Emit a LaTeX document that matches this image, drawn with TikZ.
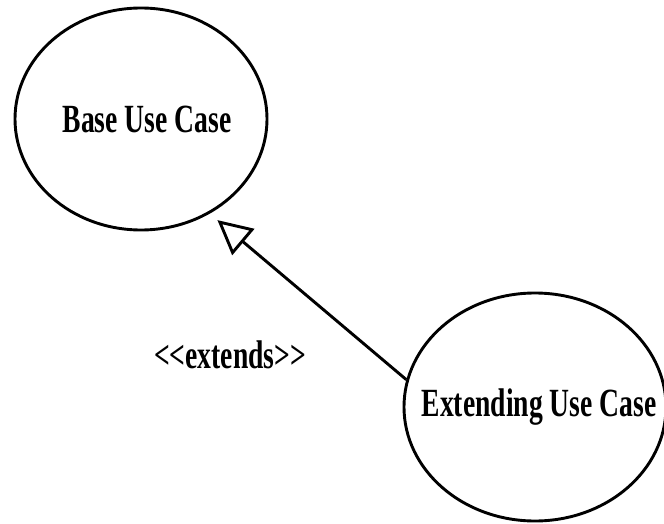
\documentclass[tikz,border=0pt]{standalone}
\usepackage{fontspec}
\setmainfont{Liberation Serif}[FakeStretch=0.69]
\usetikzlibrary{arrows.meta, shapes.geometric}

\begin{document}
\begin{tikzpicture}[x=1pt, y=1pt,
    usecase/.style={draw, ellipse, line width=2.9pt, inner sep=0pt,
        font=\fontsize{40}{44}\selectfont\bfseries},
    extends/.style={-{Triangle[open, length=34pt, width=34pt]}, line width=2.9pt,
        shorten >=10pt}]
    \useasboundingbox (0,0) rectangle (664,523);

    \node[usecase, minimum width=252pt, minimum height=222pt] (base) at (141,404)
        {\makebox[0pt]{\hspace{12pt}Base Use Case}};
    \node[usecase, minimum width=262pt, minimum height=228pt] (ext) at (535,116)
        {\makebox[0pt]{\hspace{8pt}Extending Use Case}};

    \draw[extends] (ext.168) -- (base.-54);

    \node[font=\fontsize{40}{44}\selectfont\bfseries] (lbl) at (230,168)
        {<\kern0pt<extends>\kern0pt>};
\end{tikzpicture}
\end{document}
